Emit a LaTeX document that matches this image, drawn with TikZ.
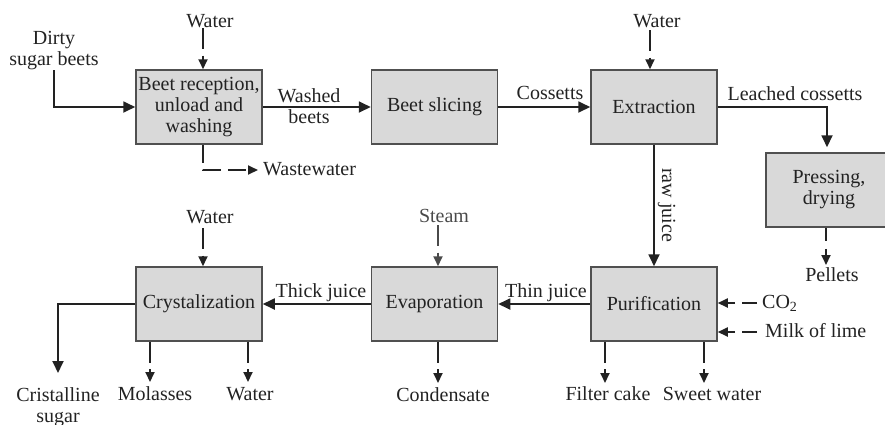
\documentclass[tikz,border=0pt]{standalone}
\usepackage{fontspec}
\setmainfont{Liberation Serif}
\usetikzlibrary{arrows.meta}
\definecolor{ink}{HTML}{222222}
\definecolor{softink}{HTML}{4A4A4A}
\definecolor{boxfill}{HTML}{D9D9D9}
\definecolor{boxline}{HTML}{505050}

\begin{document}
\begin{tikzpicture}[x=1pt,y=-1pt,
  font=\fontsize{20}{21}\selectfont,
  unit/.style={draw=boxline, fill=boxfill, line width=1.5pt,
    minimum width=126pt, minimum height=74pt, inner sep=0pt,
    align=center, text=ink},
  lbl/.style={inner sep=0pt, text=ink, align=center},
  flow/.style={draw=ink, line width=1.8pt, -{Triangle[length=12pt,width=11pt]}},
  feed/.style={draw=ink, line width=1.8pt, dash pattern=on 21pt off 6.5pt,
    -{Triangle[length=10pt,width=9pt]}},
]
\useasboundingbox (0,0) rectangle (885,424);
\clip (0,0) rectangle (885,424);

% process units
\node[unit] (recv)  at (199,107)   {Beet reception,\\unload and\\washing};
\node[unit] (slice) at (434.5,107) {Beet slicing};
\node[unit] (extr)  at (654,107)   {Extraction};
\node[unit] (press) at (829,190)   {Pressing,\\drying};
\node[unit] (puri)  at (654,304)   {Purification};
\node[unit] (evap)  at (434.5,304) {Evaporation};
\node[unit] (cryst) at (199,304)   {Crystalization};

% stream labels
\node[lbl,anchor=base]  (wtr1)    at (210,27)   {Water};
\node[lbl,anchor=south] (dirty)   at (54,70.4)  {Dirty\\sugar beets};
\node[lbl]              (washed)  at (309,106.5) {Washed\\beets};
\node[lbl,anchor=base west] (wastew) at (263,175) {Wastewater};
\node[lbl,anchor=base]  (coss)    at (550,99)   {Cossetts};
\node[lbl,anchor=base]  (wtr3)    at (657,27)   {Water};
\node[lbl,anchor=base]  (leached) at (795,100)  {Leached cossetts};
\node[lbl,anchor=base,rotate=-90] (raw) at (662,205) {raw juice};
\node[lbl,anchor=base]  (pellets) at (832,281)  {Pellets};
\node[lbl,anchor=base west] (co2) at (762,308)  {CO\textsubscript{2}};
\node[lbl,anchor=base west] (milk) at (765,337) {Milk of lime};
\node[lbl,anchor=base]  (fcake)   at (608,400)  {Filter cake};
\node[lbl,anchor=base]  (sweet)   at (712,400)  {Sweet water};
\node[lbl,anchor=base]  (thin)    at (546,297)  {Thin juice};
\node[lbl,anchor=base,text=softink] (steam) at (444,222) {Steam};
\node[lbl,anchor=base]  (cond)    at (443,401)  {Condensate};
\node[lbl,anchor=base]  (thick)   at (321,297)  {Thick juice};
\node[lbl,anchor=base]  (wtr7)    at (210,223)  {Water};
\node[lbl,anchor=north] (crist)   at (58,387)   {Cristalline\\sugar};
\node[lbl,anchor=base]  (molas)   at (155,400)  {Molasses};
\node[lbl,anchor=base]  (wtrout)  at (250,400)  {Water};

% main product line
\draw[flow] (dirty.south) |- (recv.west);
\draw[flow] (recv.east) -- (slice.west);
\draw[flow] (slice.east) -- (extr.west);
\coordinate (lcbend) at (827,107);
\draw[flow, shorten >=5pt] (extr.east) -- (lcbend) -- (lcbend |- press.north);
\draw[flow] (extr.south) -- (puri.north);
\draw[flow] (puri.west) -- (evap.east);
\draw[flow] (evap.west) -- (cryst.east);
\coordinate (sugarout) at (58,373);
\draw[flow] (cryst.west) -| (sugarout);

% auxiliary inputs
\coordinate (w1in) at (203,28);
\draw[feed] (w1in) -- (w1in |- recv.north);
\coordinate (w3in) at (650,30);
\draw[feed] (w3in) -- (w3in |- extr.north);
\coordinate (stin) at (438,225);
\draw[feed, draw=softink] (stin) -- (stin |- evap.north);
\coordinate (w7in) at (203,228);
\draw[feed] (w7in) -- (w7in |- cryst.north);
\coordinate (co2in) at (757,303);
\draw[feed, dash pattern=on 15pt off 7pt] (co2in) -- (co2in -| puri.east);
\coordinate (limein) at (757,332);
\draw[feed, dash pattern=on 15pt off 7pt] (limein) -- (limein -| puri.east);

% by-products and outputs
\coordinate (wwbend) at (203,170);
\draw[feed, dash pattern=on 18pt off 7pt, shorten >=5pt]
  (wwbend |- recv.south) -- (wwbend) -- (wastew.west |- wwbend);
\coordinate (pelout) at (826,265);
\draw[feed, dash pattern=on 13pt off 8pt] (pelout |- press.south) -- (pelout);
\coordinate (fcout) at (605,383);
\draw[feed] (fcout |- puri.south) -- (fcout);
\coordinate (swout) at (704,383);
\draw[feed] (swout |- puri.south) -- (swout);
\coordinate (cdout) at (438,383);
\draw[feed] (cdout |- evap.south) -- (cdout);
\coordinate (moout) at (150,382);
\draw[feed] (moout |- cryst.south) -- (moout);
\coordinate (wout) at (248,382);
\draw[feed] (wout |- cryst.south) -- (wout);
\end{tikzpicture}
\end{document}
